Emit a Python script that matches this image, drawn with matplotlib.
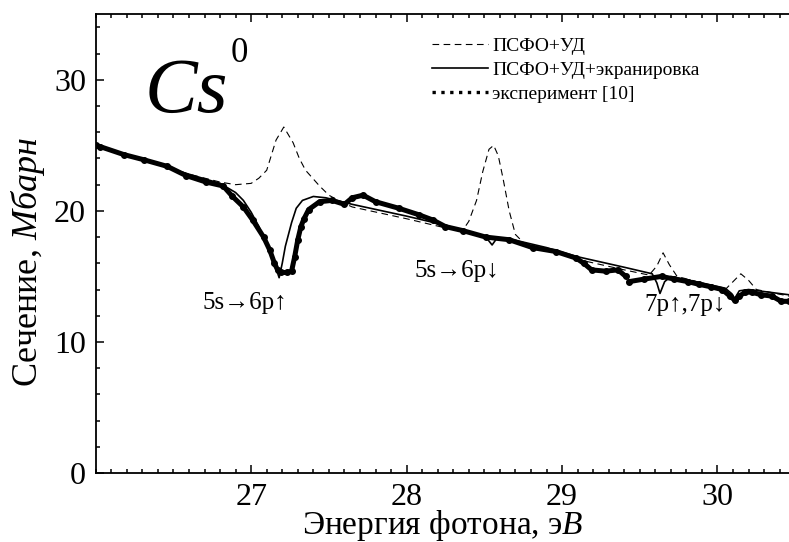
import numpy as np
import matplotlib
matplotlib.use('Agg')
import matplotlib.pyplot as plt
from matplotlib.ticker import MultipleLocator, FixedLocator

plt.rcParams['font.family'] = ['Liberation Serif', 'DejaVu Serif']
plt.rcParams['mathtext.fontset'] = 'custom'
plt.rcParams['mathtext.rm'] = 'Liberation Serif'
plt.rcParams['mathtext.it'] = 'Liberation Serif:italic'

# experiment [10], two pieces (there is a break near 29.42 eV)
exp_e1 = [26.0, 26.03, 26.18, 26.31, 26.46, 26.58, 26.71, 26.82, 26.88, 26.95, 27.01, 27.08,
          27.12, 27.15, 27.17, 27.19, 27.23, 27.26, 27.28, 27.30, 27.32, 27.34, 27.37, 27.44,
          27.52, 27.60, 27.65, 27.72, 27.80, 27.95, 28.08, 28.17, 28.25, 28.36, 28.51, 28.66,
          28.81, 28.96, 29.09, 29.14, 29.19, 29.28, 29.36, 29.41]
exp_s1 = [25.0, 24.9, 24.3, 23.9, 23.4, 22.7, 22.2, 21.9, 21.1, 20.3, 19.3, 18.0,
          17.0, 16.0, 15.5, 15.3, 15.3, 15.4, 16.5, 17.8, 18.8, 19.4, 20.1, 20.7,
          20.8, 20.5, 21.0, 21.2, 20.7, 20.2, 19.7, 19.3, 18.8, 18.5, 18.0, 17.8,
          17.2, 16.9, 16.4, 16.0, 15.5, 15.4, 15.5, 15.0]
exp_e2 = [29.43, 29.53, 29.64, 29.72, 29.81, 29.88, 29.96, 30.03, 30.08, 30.11, 30.14, 30.18,
          30.22, 30.28, 30.35, 30.41, 30.46]
exp_s2 = [14.6, 14.8, 15.0, 14.8, 14.6, 14.4, 14.2, 14.0, 13.5, 13.2, 13.5, 13.8,
          13.8, 13.6, 13.5, 13.1, 13.1]

# ПСФО+УД+экранировка
sol_e = [26.0, 26.3, 26.6, 26.8, 26.9, 26.95, 27.0, 27.05, 27.1, 27.15, 27.18, 27.2, 27.22,
         27.26, 27.29, 27.33, 27.40, 27.48, 27.55, 27.65, 28.0, 28.25, 28.45, 28.51, 28.55,
         28.58, 28.65, 28.9, 29.1, 29.4, 29.58, 29.61, 29.63, 29.66, 29.70, 29.9, 30.05,
         30.09, 30.11, 30.14, 30.2, 30.46]
sol_s = [24.9, 23.9, 22.8, 22.1, 21.4, 20.8, 19.9, 18.8, 17.4, 16.0, 14.9, 16.0, 17.3,
         19.1, 20.2, 20.8, 21.1, 21.0, 20.8, 20.5, 19.6, 18.9, 18.2, 18.0, 17.4,
         17.9, 17.9, 17.2, 16.5, 15.7, 15.2, 14.5, 13.7, 14.6, 15.0, 14.5, 14.1,
         13.7, 13.3, 13.9, 14.0, 13.6]

# ПСФО+УД
das_e = [26.0, 26.3, 26.6, 26.8, 26.9, 27.0, 27.05, 27.1, 27.16, 27.21, 27.27, 27.31, 27.35,
         27.44, 27.50, 27.56, 27.65, 28.0, 28.25, 28.36, 28.40, 28.45, 28.49, 28.53, 28.56,
         28.59, 28.62, 28.66, 28.70, 28.75, 28.9, 29.1, 29.4, 29.56, 29.61, 29.65, 29.69,
         29.74, 29.9, 30.05, 30.10, 30.15, 30.20, 30.25, 30.46]
das_s = [24.9, 23.9, 22.8, 22.2, 22.0, 22.1, 22.5, 23.1, 25.4, 26.4, 25.2, 24.0, 23.1,
         21.9, 21.2, 20.8, 20.3, 19.4, 18.7, 18.5, 19.2, 20.8, 23.0, 24.7, 25.0,
         24.2, 22.5, 20.0, 18.2, 17.6, 17.0, 16.3, 15.5, 15.1, 15.8, 16.8, 15.9,
         15.0, 14.5, 14.0, 14.6, 15.2, 14.7, 14.0, 13.5]

fig = plt.figure(figsize=(7.89, 5.42), dpi=100)
ax = fig.add_axes([0.1213, 0.1273, 0.8787, 0.8463])

ax.plot(das_e, das_s, color='k', lw=0.8, ls=(0, (6, 4)), label='ПСФО+УД')
ax.plot(sol_e, sol_s, color='k', lw=1.2, label='ПСФО+УД+экранировка')
ax.plot(exp_e1, exp_s1, color='k', lw=3.6, marker='o', ms=4, solid_capstyle='round')
ax.plot(exp_e2, exp_s2, color='k', lw=3.6, marker='o', ms=4, solid_capstyle='round')
ax.plot([], [], color='k', lw=2.4, ls=':', label='эксперимент [10]')

# Cs^0 written as two pieces so the superscript stays small
ax.text(0.071, 0.787, 'Cs', style='italic', transform=ax.transAxes, fontsize=57,
        va='baseline')
ax.text(0.194, 0.896, '0', transform=ax.transAxes, fontsize=25, va='baseline')

ax.text(26.96, 13.0, '5s→6p↑', ha='center', va='center', fontsize=18)
ax.text(28.32, 15.4, '5s→6p↓', ha='center', va='center', fontsize=18)
ax.text(29.79, 12.8, '7p↑,7p↓', ha='center', va='center', fontsize=18)

ax.set_xlim(26.0, 30.46)
ax.set_ylim(0, 35)
ax.xaxis.set_major_locator(FixedLocator([27, 28, 29, 30]))
ax.xaxis.set_minor_locator(MultipleLocator(0.1))
ax.yaxis.set_major_locator(MultipleLocator(10))
ax.yaxis.set_minor_locator(MultipleLocator(2))
ax.tick_params(which='both', direction='in', top=True, right=False, width=1.1,
               labelsize=23, pad=7)
ax.tick_params(which='major', length=6)
ax.tick_params(which='minor', length=3)
ax.spines['right'].set_visible(False)
for s in ['left', 'bottom', 'top']:
    ax.spines[s].set_linewidth(1.3)

ax.set_xlabel(r'Энергия фотона, э$\mathit{В}$', fontsize=24, va='baseline')
ax.set_ylabel(r'Сечение, $\mathit{Мбарн}$', fontsize=26)
ax.xaxis.set_label_coords(0.5, -0.134)
ax.yaxis.set_label_coords(-0.07, 0.46)

ax.legend(loc='upper left', bbox_to_anchor=(0.485, 0.95), frameon=False, fontsize=14,
          handlelength=2.9, handletextpad=0.2, labelspacing=0.33, borderpad=0,
          borderaxespad=0)

plt.savefig('out.png', dpi=100)
